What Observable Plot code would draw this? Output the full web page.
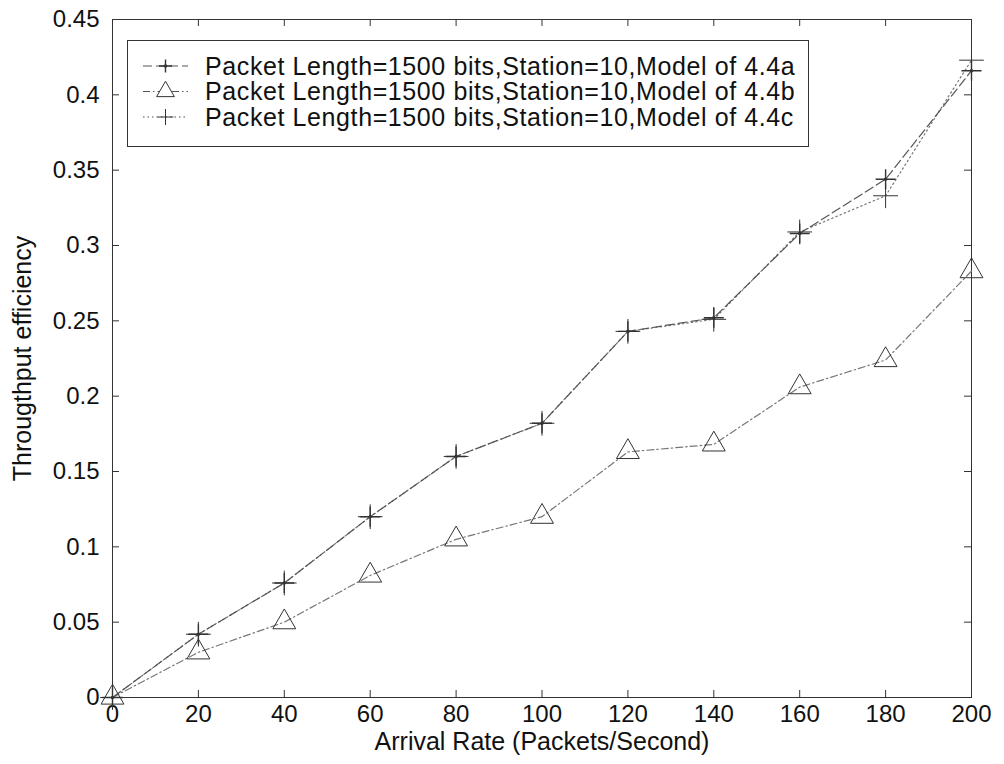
<!DOCTYPE html>
<html>
<head>
<meta charset="utf-8">
<script src="https://cdn.jsdelivr.net/npm/d3@7"></script>
<script src="https://cdn.jsdelivr.net/npm/@observablehq/plot@0.6"></script>
<style>
  html, body { margin: 0; padding: 0; background: #fff; }
  #chart { width: 1004px; height: 764px; }
  svg { display: block; }
</style>
</head>
<body>
<div id="chart"></div>
<script>
// ---- data ----
const arrivalRate = [0, 20, 40, 60, 80, 100, 120, 140, 160, 180, 200];
const modelA = [0, 0.042, 0.076, 0.120, 0.160, 0.182, 0.243, 0.252, 0.308, 0.344, 0.416];
const modelB = [0, 0.030, 0.050, 0.081, 0.105, 0.120, 0.163, 0.168, 0.206, 0.224, 0.283];
const modelC = [0, 0.042, 0.076, 0.120, 0.160, 0.182, 0.243, 0.251, 0.309, 0.333, 0.423];
const seriesNames = [
  "Packet Length=1500 bits,Station=10,Model of 4.4a",
  "Packet Length=1500 bits,Station=10,Model of 4.4b",
  "Packet Length=1500 bits,Station=10,Model of 4.4c"
];
const xTicks = [0, 20, 40, 60, 80, 100, 120, 140, 160, 180, 200];
const yTicks = [0, 0.05, 0.1, 0.15, 0.2, 0.25, 0.3, 0.35, 0.4, 0.45];
const xTitle = "Arrival Rate (Packets/Second)";
const yTitle = "Througthput efficiency";

const toRows = (vals) => arrivalRate.map((x, i) => ({x, y: vals[i]}));
const rowsA = toRows(modelA), rowsB = toRows(modelB), rowsC = toRows(modelC);

const FONT = "'Liberation Sans', Arial, Helvetica, sans-serif";
const lineColor = "#777";
const markColor = "#333";
const dashA = "9,4";
const dashB = "7,3,1.5,3";
const dashC = "1.5,3";

const X0 = 0, X1 = 200, Y0 = 0, Y1 = 0.45;
const xTickLen = (Y1 - Y0) * 7 / 678;   // inward tick length in y units
const yTickLen = (X1 - X0) * 7 / 859;   // inward tick length in x units

const plot = Plot.plot({
  width: 1004,
  height: 764,
  marginLeft: 112,
  marginRight: 33,
  marginTop: 19,
  marginBottom: 67,
  style: {fontFamily: FONT, fontSize: "24px", background: "#fff", color: "#111"},
  x: {domain: [X0, X1]},
  y: {domain: [Y0, Y1]},
  marks: [
    Plot.axisX({ticks: xTicks, tickSize: 0, tickPadding: 7, tickFormat: d => String(d), label: null, fontSize: 24}),
    Plot.axisY({ticks: yTicks, tickSize: 0, tickPadding: 13, tickFormat: d => String(d), label: null, fontSize: 24}),
    // inward ticks on all four sides
    Plot.ruleX(xTicks, {x: d => d, y1: Y0, y2: Y0 + xTickLen, stroke: "#333"}),
    Plot.ruleX(xTicks, {x: d => d, y1: Y1, y2: Y1 - xTickLen, stroke: "#333"}),
    Plot.ruleY(yTicks, {y: d => d, x1: X0, x2: X0 + yTickLen, stroke: "#333"}),
    Plot.ruleY(yTicks, {y: d => d, x1: X1, x2: X1 - yTickLen, stroke: "#333"}),
    Plot.frame({stroke: "#333", strokeWidth: 1}),
    // lines
    Plot.line(rowsB, {x: "x", y: "y", stroke: lineColor, strokeWidth: 1.2, strokeDasharray: dashB}),
    Plot.line(rowsC, {x: "x", y: "y", stroke: lineColor, strokeWidth: 1.2, strokeDasharray: dashC}),
    Plot.line(rowsA, {x: "x", y: "y", stroke: "#555", strokeWidth: 1.2, strokeDasharray: dashA}),
    // markers
    Plot.dot(rowsB, {x: "x", y: "y", symbol: "triangle", r: 8.5, stroke: markColor, strokeWidth: 1, fill: "none"}),
    Plot.dot(rowsC, {x: "x", y: "y", symbol: "plus", r: 8, stroke: markColor, strokeWidth: 1}),
    Plot.dot(rowsA, {x: "x", y: "y", symbol: "plus", r: 6.5, stroke: markColor, strokeWidth: 1.4}),
    Plot.dot(rowsA, {x: "x", y: "y", r: 1.8, fill: markColor, stroke: "none"}),
    // axis titles
    Plot.text([xTitle], {frameAnchor: "bottom", textAnchor: "middle", dy: 52, fontSize: 25, fill: "#111", text: d => d}),
    Plot.text([yTitle], {frameAnchor: "left", textAnchor: "middle", dx: -90, rotate: -90, fontSize: 25, fill: "#111", text: d => d})
  ]
});

document.getElementById("chart").appendChild(plot);

// ---- legend (box inside the plot area, upper left) ----
const svg = d3.select(plot);
const lg = svg.append("g").attr("font-family", FONT).attr("font-size", 25).attr("text-anchor", "start");
lg.append("rect")
  .attr("x", 127.5).attr("y", 40.5).attr("width", 681).attr("height", 106)
  .attr("fill", "#fff").attr("stroke", "#333").attr("stroke-width", 1);
const rowY = [66, 91.5, 117];
const dashes = [dashA, dashB, dashC];
seriesNames.forEach((name, i) => {
  const y = rowY[i];
  lg.append("line")
    .attr("x1", 143).attr("x2", 188).attr("y1", y).attr("y2", y)
    .attr("stroke", "#555").attr("stroke-width", 1.2).attr("stroke-dasharray", dashes[i]);
  const cx = 165.5;
  if (i === 1) {
    lg.append("path")
      .attr("d", d3.symbol(d3.symbolTriangle2, Math.PI * 72)())
      .attr("transform", `translate(${cx},${y})`)
      .attr("fill", "#fff").attr("stroke", markColor);
  } else {
    const h = i === 0 ? 6.5 : 8;
    lg.append("path")
      .attr("d", `M${-h},0H${h}M0,${-h}V${h}`)
      .attr("transform", `translate(${cx},${y})`)
      .attr("fill", "none").attr("stroke", markColor).attr("stroke-width", i === 0 ? 1.4 : 1);
    if (i === 0) lg.append("circle").attr("cx", cx).attr("cy", y).attr("r", 1.8).attr("fill", markColor);
  }
  lg.append("text")
    .attr("x", 205).attr("y", y).attr("dy", "0.35em")
    .attr("text-anchor", "start")
    .attr("letter-spacing", "0.6px")
    .attr("fill", "#111")
    .text(name);
});
</script>
</body>
</html>
